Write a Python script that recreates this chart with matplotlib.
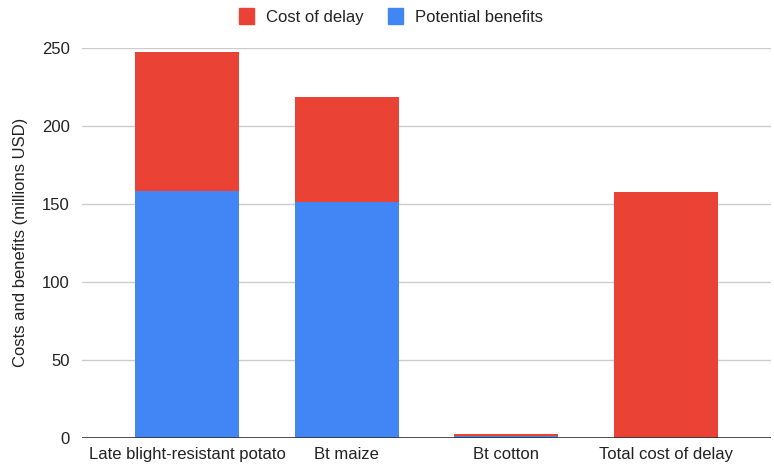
import matplotlib.pyplot as plt
from matplotlib.patches import Patch
import numpy as np

plt.rcParams["font.family"] = ["Liberation Sans", "DejaVu Sans"]

categories = ["Late blight-resistant potato", "Bt maize", "Bt cotton", "Total cost of delay"]
potential_benefits = [158, 151, 0.8, 0]
cost_of_delay = [89.5, 67.5, 1.6, 157.5]

red = "#EA4335"
blue = "#4285F4"
text_col = "#222222"

fig = plt.figure(figsize=(7.74, 4.66), dpi=100)
ax = fig.add_axes([0.106, 0.061, 0.890, 0.836])

x = np.arange(len(categories))
w = 0.653
ax.bar(x, potential_benefits, width=w, color=blue, zorder=3)
ax.bar(x, cost_of_delay, width=w, bottom=potential_benefits, color=red, zorder=3)

ax.set_xlim(-0.66, 3.66)
ax.set_ylim(0, 250)
ax.set_yticks([0, 50, 100, 150, 200, 250])
ax.set_xticks(x)
ax.set_xticklabels(categories)

ax.grid(axis="y", color="#cccccc", linewidth=1, zorder=0)
ax.axhline(0, color="#333333", linewidth=1.2, zorder=4)
for s in ax.spines.values():
    s.set_visible(False)
ax.tick_params(axis="both", length=0, labelsize=12, colors=text_col)
ax.tick_params(axis="y", pad=9)
ax.tick_params(axis="x", pad=7)

ax.set_ylabel("Costs and benefits (millions USD)", fontsize=12, color=text_col, labelpad=10)

handles = [Patch(color=red, label="Cost of delay"), Patch(color=blue, label="Potential benefits")]
fig.legend(handles=handles, loc="upper center", bbox_to_anchor=(0.505, 1.015), ncol=2,
           frameon=False, fontsize=12, handlelength=0.9, handleheight=1.1,
           handletextpad=0.7, columnspacing=1.5, labelcolor=text_col)

fig.savefig("out.png", dpi=100)
